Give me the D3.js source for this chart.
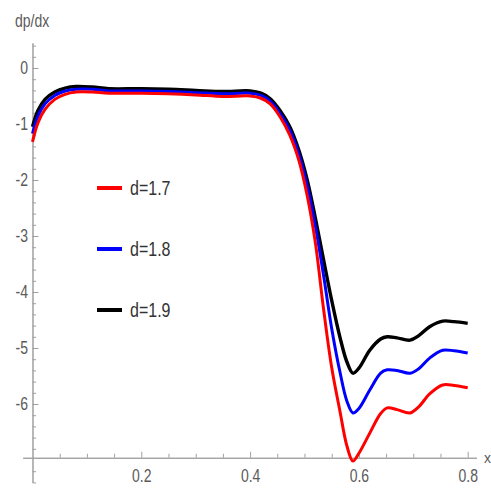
<!DOCTYPE html>
<html>
<head>
<meta charset="utf-8">
<script src="https://cdn.jsdelivr.net/npm/d3@7"></script>
<style>
  body { margin: 0; background: #fff; }
  svg { display: block; }
  .axis path, .axis line { stroke: #a0a0a0; }
  .axis text { fill: #5a5a5a; font-family: "Liberation Sans", Arial, sans-serif; font-size: 14px; }
  .lbl { fill: #5a5a5a; font-family: "Liberation Sans", Arial, sans-serif; font-size: 14px; }
  .legend text { fill: #333; font-family: "Liberation Sans", Arial, sans-serif; font-size: 16px; }
</style>
</head>
<body>
<svg id="chart"></svg>
<script>
const width = 491, height = 488;

// values
const xs = [0, 0.01, 0.023, 0.041, 0.06, 0.08, 0.11, 0.14, 0.2, 0.25, 0.3, 0.35, 0.4, 0.42,
  0.437, 0.455, 0.473, 0.49, 0.505, 0.52, 0.535, 0.55, 0.565, 0.578, 0.589, 0.6, 0.62,
  0.64, 0.652, 0.67, 0.694, 0.71, 0.73, 0.754, 0.775, 0.8];

const d19 = [-1.05, -0.76, -0.56, -0.43, -0.36, -0.33, -0.34, -0.37, -0.37, -0.38, -0.40, -0.42, -0.41, -0.45,
  -0.55, -0.76, -1.05, -1.48, -2.0, -2.68, -3.42, -4.15, -4.8, -5.25, -5.45, -5.36, -5.04,
  -4.84, -4.80, -4.82, -4.86, -4.78, -4.62, -4.52, -4.53, -4.56];

const d18 = [-1.17, -0.86, -0.64, -0.49, -0.41, -0.38, -0.38, -0.41, -0.41, -0.42, -0.44, -0.46, -0.45, -0.49,
  -0.59, -0.81, -1.11, -1.55, -2.1, -2.82, -3.7, -4.65, -5.42, -5.95, -6.16, -6.08, -5.75,
  -5.45, -5.39, -5.40, -5.45, -5.37, -5.18, -5.04, -5.05, -5.09];

const d17 = [-1.32, -0.98, -0.74, -0.56, -0.47, -0.43, -0.43, -0.45, -0.45, -0.46, -0.48, -0.51, -0.50, -0.54,
  -0.64, -0.87, -1.2, -1.66, -2.28, -3.12, -4.3, -5.35, -6.12, -6.75, -7.02, -6.88, -6.52,
  -6.17, -6.07, -6.10, -6.16, -6.05, -5.82, -5.66, -5.67, -5.71];

const seriesNames = ["d=1.7", "d=1.8", "d=1.9"];
const seriesColors = ["#ff0000", "#0000ff", "#000000"];
const seriesValues = [d17, d18, d19];

const xTicks = [0.2, 0.4, 0.6, 0.8];
const yTicks = [0, -1, -2, -3, -4, -5, -6];
const xMinor = d3.range(1, 17).map(i => i * 0.05).filter(v => Math.abs(v / 0.2 - Math.round(v / 0.2)) > 1e-6);
const yMinor = d3.range(-37, 3).map(i => i * 0.2).filter(v => Math.abs(v - Math.round(v)) > 1e-6);

const svg = d3.select("#chart").attr("width", width).attr("height", height);

const x = d3.scaleLinear().domain([-0.018, 0.816]).range([22.7, 476.4]);
const y = d3.scaleLinear().domain([0.45, -7.4]).range([42.8, 482.4]);

const xAxisY = y(-6.96);
const yAxisX = x(0);

// y axis
svg.append("g").attr("class", "axis")
  .attr("transform", `translate(${yAxisX},0)`)
  .call(d3.axisLeft(y).tickValues(yMinor).tickSize(-3.5).tickSizeOuter(0).tickFormat(""));
const yAx = svg.append("g").attr("class", "axis")
  .attr("transform", `translate(${yAxisX},0)`)
  .call(d3.axisLeft(y).tickValues(yTicks).tickSize(-6).tickSizeOuter(0).tickPadding(4.5)
    .tickFormat(d => d3.format("d")(d).replace("−", "-")));
yAx.selectAll("text").attr("transform", "scale(1,1.3)");

// x axis
svg.append("g").attr("class", "axis")
  .attr("transform", `translate(0,${xAxisY})`)
  .call(d3.axisBottom(x).tickValues(xMinor).tickSize(-4).tickSizeOuter(0).tickFormat(""));
const xAx = svg.append("g").attr("class", "axis")
  .attr("transform", `translate(0,${xAxisY})`)
  .call(d3.axisBottom(x).tickValues(xTicks).tickSize(-6).tickSizeOuter(0).tickPadding(9)
    .tickFormat(d3.format(".1f")));
xAx.selectAll("text").attr("transform", "scale(1,1.3)");

svg.append("text").attr("class", "lbl")
  .attr("x", 15).attr("y", 21).attr("dy", "0.35em")
  .attr("transform", "translate(0,21) scale(1,1.25) translate(0,-21)")
  .text("dp/dx");
svg.append("text").attr("class", "lbl")
  .attr("x", 484).attr("y", xAxisY).attr("dy", "0.35em")
  .text("x");

// curves
const line = d3.line()
  .x((d, i) => x(xs[i]))
  .y(d => y(d))
  .curve(d3.curveCatmullRom.alpha(0.5));

[2, 1, 0].forEach(k => {
  svg.append("path")
    .datum(seriesValues[k])
    .attr("fill", "none")
    .attr("stroke", seriesColors[k])
    .attr("stroke-width", k === 2 ? 3.4 : 3)
    .attr("stroke-linejoin", "round")
    .attr("d", line);
});

// legend
const legend = svg.append("g").attr("class", "legend");
const legY = [188, 249, 310];
seriesNames.forEach((name, i) => {
  legend.append("line")
    .attr("x1", 97).attr("x2", 122)
    .attr("y1", legY[i]).attr("y2", legY[i])
    .attr("stroke", seriesColors[i]).attr("stroke-width", 4);
  legend.append("text")
    .attr("x", 130).attr("y", legY[i]).attr("dy", "0.35em")
    .attr("transform", `translate(0,${legY[i]}) scale(1,1.3) translate(0,${-legY[i]})`)
    .text(name);
});
</script>
</body>
</html>
